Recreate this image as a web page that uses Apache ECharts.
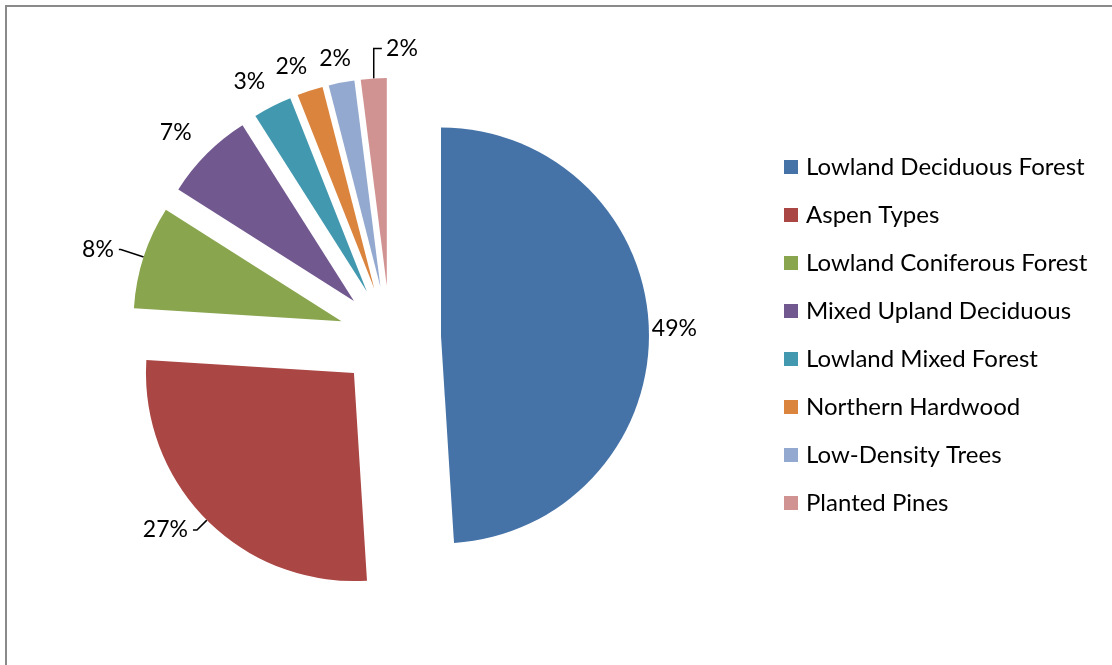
<!DOCTYPE html>
<html>
<head>
<meta charset="utf-8">
<script src="https://cdn.jsdelivr.net/npm/echarts@6/dist/echarts.min.js"></script>
<style>
html,body{margin:0;padding:0;background:#fff;}
#chart{width:1112px;height:665px;}
</style>
</head>
<body>
<div id="chart"></div>
<script>
// ---- data ----
const categories = ['Lowland Deciduous Forest','Aspen Types','Lowland Coniferous Forest','Mixed Upland Deciduous','Lowland Mixed Forest','Northern Hardwood','Low-Density Trees','Planted Pines'];
const values = [49, 27, 8, 7, 3, 2, 2, 2];
const colors = ['#4572A7','#AA4643','#89A54E','#71588F','#4198AF','#DB843D','#93A9CF','#D19392'];
// label placement tweaks per slice: [length, length2, distance, showLine]
const labelTweaks = [
  [0, 0, 3, false],
  [14, 4, 5, true],
  [24, 2, 5, true],
  [30, -11, 5, false],
  [28, -10.5, 5, false],
  [25, -10, 5, false],
  [24, -19, 5, false],
  [30, -10, -36, true]
];

const FONT = 'Lato, "Open Sans", sans-serif';
const chart = echarts.init(document.getElementById('chart'), null, {renderer:'canvas'});

const data = categories.map((name, i) => ({
  name: name,
  value: values[i],
  selected: true,
  itemStyle: {color: colors[i]},
  label: {distanceToLabelLine: labelTweaks[i][2]},
  labelLine: {show: labelTweaks[i][3], length: labelTweaks[i][0], length2: labelTweaks[i][1]}
}));

chart.setOption({
  animation: false,
  backgroundColor: '#ffffff',
  graphic: [{
    type: 'rect',
    shape: {x: 6, y: 6, width: 1200, height: 700},
    style: {fill: 'none', stroke: '#8a8a8a', lineWidth: 2},
    silent: true
  }],
  legend: {
    orient: 'vertical',
    left: 784,
    top: 155,
    padding: 0,
    itemWidth: 14,
    itemHeight: 14,
    itemGap: 24,
    icon: 'rect',
    selectedMode: false,
    data: categories,
    textStyle: {fontFamily: FONT, fontSize: 24, color: '#000', lineHeight: 24, padding: [0,0,0,3]}
  },
  series: [{
    type: 'pie',
    center: [390, 337],
    radius: [0, 208],
    startAngle: 90,
    clockwise: true,
    selectedMode: 'multiple',
    selectedOffset: 51,
    avoidLabelOverlap: false,
    emphasis: {disabled: true},
    itemStyle: {borderWidth: 0},
    label: {
      show: true,
      position: 'outside',
      formatter: '{d}%',
      fontFamily: FONT,
      fontSize: 23,
      color: '#000'
    },
    labelLine: {
      lineStyle: {color: '#000', width: 1.5},
      smooth: false
    },
    data: data
  }]
});
</script>
</body>
</html>
